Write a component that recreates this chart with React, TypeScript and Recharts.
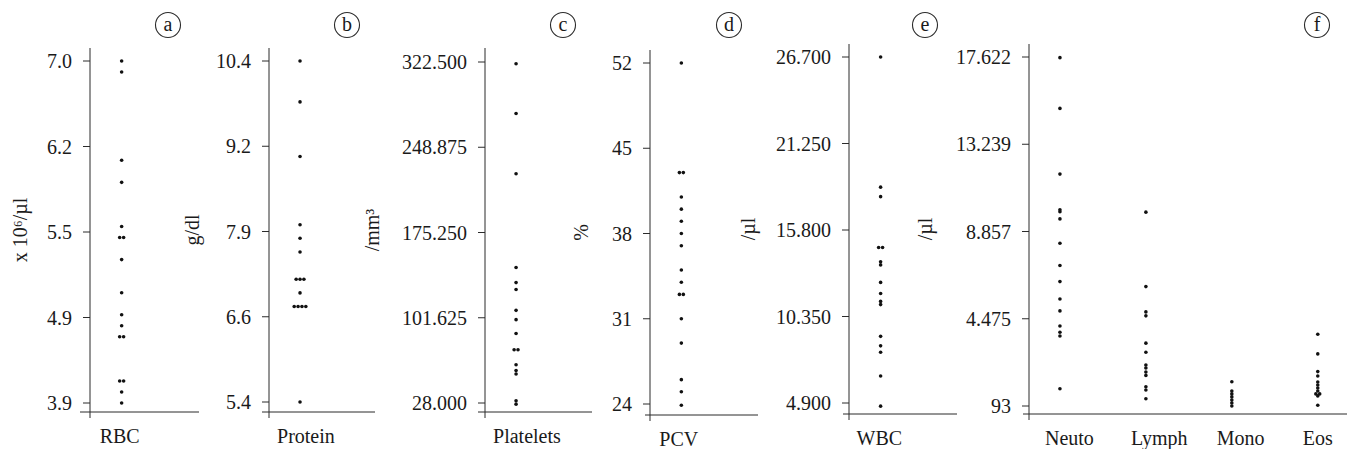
import React from "react";
import { ScatterChart, Scatter, XAxis, YAxis } from "recharts";

// values, one array per column
const rbc = [7.0, 6.9, 6.1, 5.9, 5.5, 5.4, 5.4, 5.2, 4.9, 4.7, 4.6, 4.5, 4.5, 4.1, 4.1, 4.0, 3.9];
const protein = [10.4, 9.8, 9.0, 8.0, 7.8, 7.6, 7.2, 7.2, 7.2, 7.0, 6.8, 6.8, 6.8, 6.8, 5.4];
const platelets = [321, 278, 226, 145, 132, 126, 108, 100, 88, 74, 74, 61, 56, 53, 30, 27];
const pcv = [52, 43, 43, 41, 40, 39, 38, 37, 35, 34, 33, 33, 31, 29, 26, 25, 23.9];
const wbc = [26.7, 18.5, 17.9, 14.7, 14.7, 13.8, 13.6, 12.5, 11.8, 11.3, 11.1, 9.1, 8.5, 8.1, 6.6, 4.7];
const neuto = [17.59, 15.04, 11.74, 9.95, 9.85, 9.49, 8.27, 7.15, 6.34, 5.47, 4.87, 4.11, 3.8, 3.61, 0.96];
const lymph = [9.83, 6.09, 4.82, 4.62, 3.25, 2.79, 2.15, 2.0, 1.8, 1.63, 1.06, 0.9, 0.46];
const mono = [1.31, 0.85, 0.7, 0.55, 0.39, 0.24, 0.09];
const eos = [3.7, 2.71, 1.82, 1.6, 1.3, 1.15, 1.0, 0.85, 0.7, 0.7, 0.6, 0.13];

// axis ranges and printed tick labels (bottom to top)
const rbcRange: [number, number] = [3.9, 7.0];
const rbcTicks = ["3.9", "4.9", "5.5", "6.2", "7.0"];
const proteinRange: [number, number] = [5.4, 10.4];
const proteinTicks = ["5.4", "6.6", "7.9", "9.2", "10.4"];
const plateletRange: [number, number] = [28, 322.5];
const plateletTicks = ["28.000", "101.625", "175.250", "248.875", "322.500"];
const pcvRange: [number, number] = [24, 52];
const pcvTicks = ["24", "31", "38", "45", "52"];
const wbcRange: [number, number] = [4.9, 26.7];
const wbcTicks = ["4.900", "10.350", "15.800", "21.250", "26.700"];
const diffRange: [number, number] = [0.093, 17.622];
const diffTicks = ["93", "4.475", "8.857", "13.239", "17.622"];

const INK = "#2b2b2b";
const TXT = "#1a1a1a";
const FONT = "'Liberation Serif', 'Times New Roman', Tinos";

interface Panel {
  letter: string;
  unit: string;
  cats: string[];
  series: number[][];
  range: [number, number];
  tickLabels: string[];
  // layout (px)
  left: number;
  axisX: number;
  right: number;
  lineStart: number;
  top: number;
  lineY: number;
  tickTop: number;
  tickBot: number;
  circleX: number;
  catDx: number;
  xMax: number;
}

const panels: Panel[] = [
  { letter: "a", unit: "x 10\u2076/\u00b5l", cats: ["RBC"], series: [rbc], range: rbcRange, tickLabels: rbcTicks,
    left: 0, axisX: 90, right: 199, lineStart: 80, top: 48, lineY: 412, tickTop: 61, tickBot: 403, circleX: 168, catDx: -22, xMax: 0.88 },
  { letter: "b", unit: "g/dl", cats: ["Protein"], series: [protein], range: proteinRange, tickLabels: proteinTicks,
    left: 172, axisX: 269, right: 375, lineStart: 262, top: 48, lineY: 412, tickTop: 61, tickBot: 402, circleX: 347, catDx: -23, xMax: 0.87 },
  { letter: "c", unit: "/mm\u00b3", cats: ["Platelets"], series: [platelets], range: plateletRange, tickLabels: plateletTicks,
    left: 352, axisX: 485, right: 592, lineStart: 478, top: 48, lineY: 412, tickTop: 62, tickBot: 403, circleX: 563, catDx: -23, xMax: 0.88 },
  { letter: "d", unit: "%", cats: ["PCV"], series: [pcv], range: pcvRange, tickLabels: pcvTicks,
    left: 561, axisX: 650, right: 758, lineStart: 645, top: 50, lineY: 415, tickTop: 63, tickBot: 404, circleX: 729, catDx: -22, xMax: 0.88 },
  { letter: "e", unit: "/\u00b5l", cats: ["WBC"], series: [wbc], range: wbcRange, tickLabels: wbcTicks,
    left: 728, axisX: 849, right: 957, lineStart: 843, top: 44, lineY: 414, tickTop: 57, tickBot: 403, circleX: 925, catDx: -24, xMax: 0.87 },
  { letter: "f", unit: "/\u00b5l", cats: ["Neuto", "Lymph", "Mono", "Eos"], series: [neuto, lymph, mono, eos], range: diffRange, tickLabels: diffTicks,
    left: 905, axisX: 1029, right: 1347, lineStart: 1023, top: 44, lineY: 414, tickTop: 57, tickBot: 406, circleX: 1317, catDx: -15, xMax: 3.34 },
];

// spread exact duplicates sideways, like the original dot plot
function swarm(values: number[], col: number) {
  const counts: Record<string, number> = {};
  const seen: Record<string, number> = {};
  values.forEach((v) => (counts[v] = (counts[v] || 0) + 1));
  return values.map((v) => {
    const k = (seen[v] = (seen[v] ?? -1) + 1);
    return { x: col + (k - (counts[v] - 1) / 2) * 0.045, y: v };
  });
}

const Dot = (props: any) => <circle cx={props.cx} cy={props.cy} r={1.8} fill="#111" />;

function PanelChart({ p }: { p: Panel }) {
  const [lo, hi] = p.range;
  const ticks = [0, 1, 2, 3, 4].map((k) => (k === 4 ? hi : lo + ((hi - lo) * k) / 4));
  // stretch the domain so the first/last ticks sit inside the axis like the original
  const perPx = (hi - lo) / (p.tickBot - p.tickTop);
  const domain: [number, number] = [lo - (p.lineY - p.tickBot) * perPx, hi + (p.tickTop - p.top) * perPx];
  const data = p.series.flatMap((s, i) => swarm(s, i));
  const xAxisH = 35;
  return (
    <div style={{ position: "absolute", left: p.left, top: 0 }}>
      <ScatterChart
        width={p.right - p.left}
        height={449}
        margin={{ top: p.top, right: 0, bottom: 449 - p.lineY - xAxisH, left: 0 }}
      >
        <XAxis
          type="number"
          dataKey="x"
          domain={[-0.36, p.xMax]}
          allowDataOverflow
          ticks={p.cats.map((_, i) => i)}
          interval={0}
          height={xAxisH}
          axisLine={{ stroke: INK }}
          tickLine={false}
          tickSize={0}
          tickMargin={0}
          tick={(t: any) => (
            <text x={t.x + p.catDx} y={t.y + 31} textAnchor="start" fill={TXT} fontSize={20} style={{ fontFamily: FONT }}>
              {p.cats[t.payload.value]}
            </text>
          )}
        />
        <YAxis
          type="number"
          dataKey="y"
          domain={domain}
          allowDataOverflow
          ticks={ticks}
          interval={0}
          width={p.axisX - p.left}
          axisLine={{ stroke: INK }}
          tickLine={{ stroke: INK }}
          tickSize={7}
          tickMargin={11}
          tickFormatter={(_v: number, i: number) => p.tickLabels[i]}
          tick={{ fill: TXT, fontSize: 20, style: { fontFamily: FONT } }}
          label={{
            value: p.unit,
            angle: -90,
            position: "insideLeft",
            offset: 20,
            fill: TXT,
            fontSize: 20,
            style: { textAnchor: "middle", fontFamily: FONT },
          }}
        />
        <Scatter data={data} shape={Dot} isAnimationActive={false} />
      </ScatterChart>
    </div>
  );
}

export default function App() {
  return (
    <div style={{ position: "relative", width: 1347, height: 449, background: "#fff", overflow: "hidden", fontFamily: FONT }}>
      <style>{"body{margin:0}"}</style>
      {panels.map((p) => (
        <PanelChart key={p.letter} p={p} />
      ))}
      <svg width={1347} height={449} style={{ position: "absolute", left: 0, top: 0, pointerEvents: "none" }}>
        {panels.map((p) => (
          <g key={p.letter}>
            <line x1={p.lineStart} x2={p.axisX} y1={p.lineY} y2={p.lineY} stroke={INK} />
            <line x1={p.axisX} x2={p.axisX} y1={p.lineY} y2={p.lineY + 6} stroke={INK} />
            <circle cx={p.circleX} cy={25} r={12.5} fill="none" stroke={INK} strokeWidth={1.1} />
            <text x={p.circleX} y={25} dy="0.3em" textAnchor="middle" fontSize={20} fill={TXT} style={{ fontFamily: FONT }}>
              {p.letter}
            </text>
          </g>
        ))}
      </svg>
    </div>
  );
}
